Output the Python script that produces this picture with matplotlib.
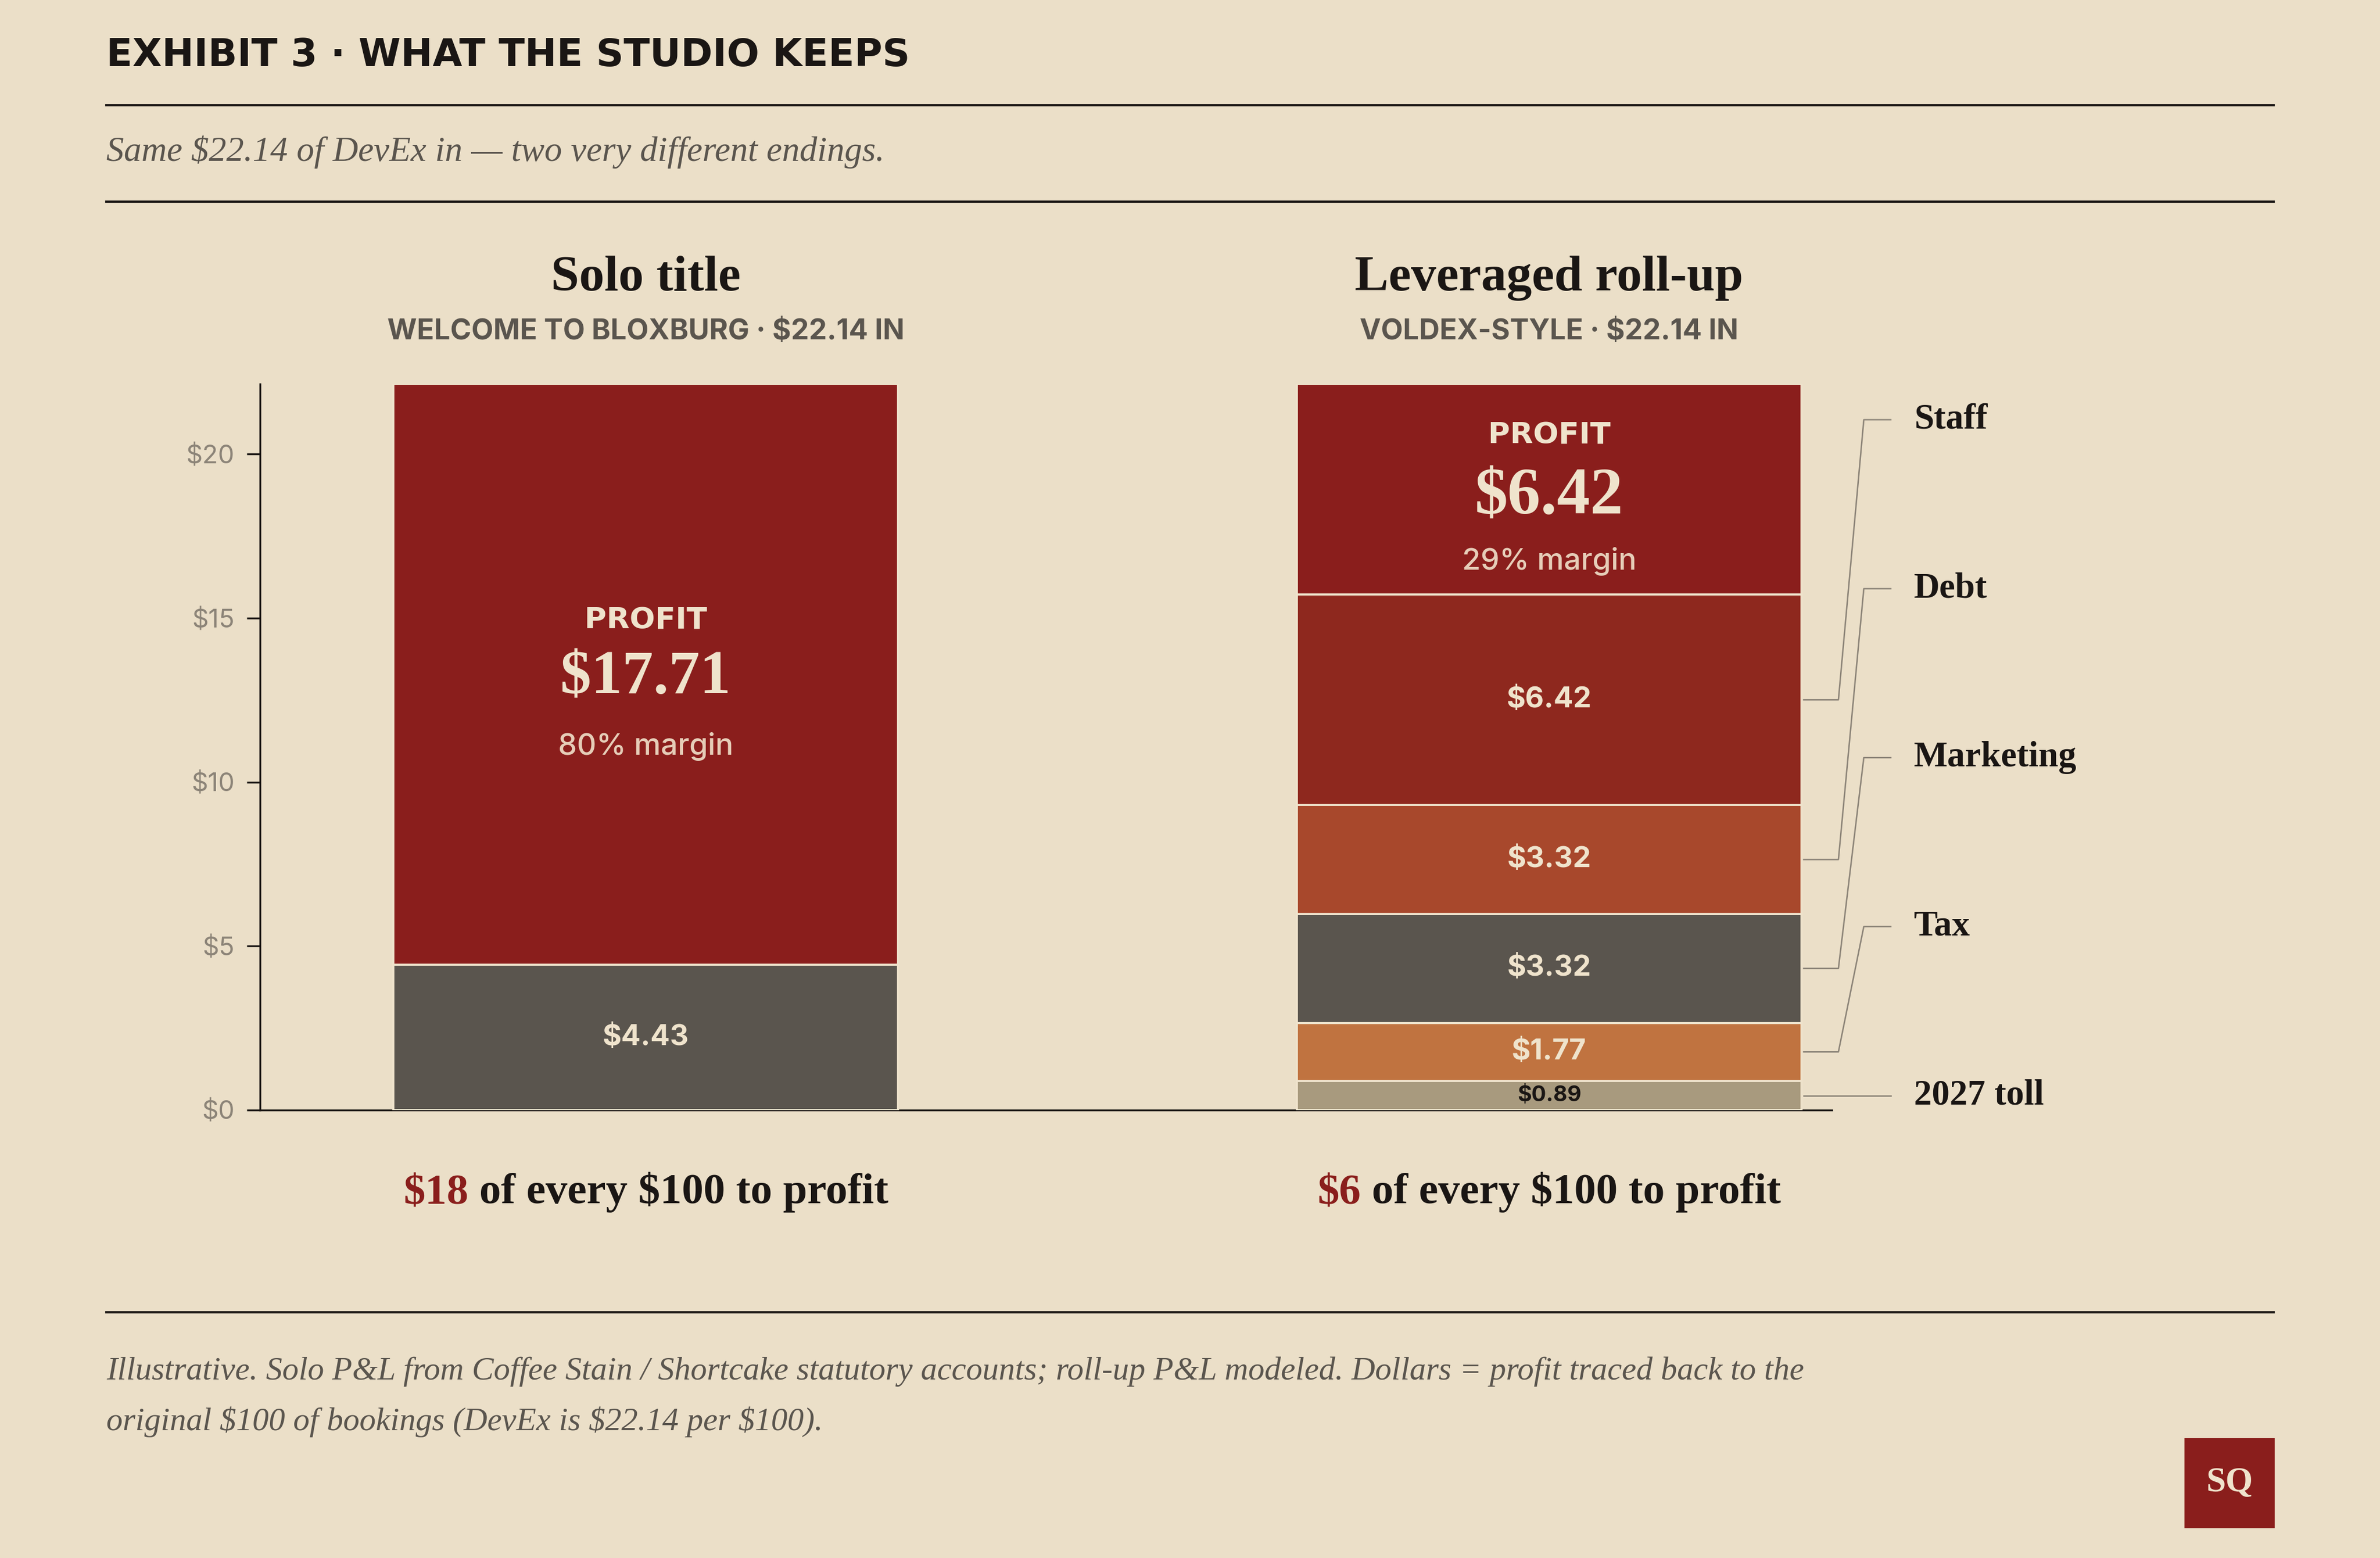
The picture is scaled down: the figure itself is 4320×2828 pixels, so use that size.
import matplotlib
matplotlib.use("Agg")
import matplotlib.pyplot as plt
import numpy as np

W, H = 4320, 2828
DPI = 270

BG = '#ebdfc8'
INK = '#1a1614'
MUTED = '#5a554e'
GRAYTICK = '#8c8478'
CREAM = '#efe3cc'
RED = '#8a1e1c'

SERIF = ['Liberation Serif', 'DejaVu Serif']
SANS = ['Inter', 'DejaVu Sans']
WIDE = ['DejaVu Sans']

# data
solo_labels = ['Costs', 'Profit']
solo_values = [4.43, 17.71]
solo_colors = ['#5a554e', RED]

roll_labels = ['2027 toll', 'Tax', 'Marketing', 'Debt', 'Staff', 'Profit']
roll_values = [0.89, 1.77, 3.32, 3.32, 6.42, 6.42]
roll_colors = ['#a89a7e', '#c07340', '#5a554e', '#a8482c', '#8e281e', RED]

devex_in = 22.14
solo_margin = '80% margin'
roll_margin = '29% margin'
per100 = ['$18', '$6']
yticks = [0, 5, 10, 15, 20]


def fx(px):
    return px / W


def fy(py):
    return 1 - py / H


fig = plt.figure(figsize=(W / DPI, H / DPI), dpi=DPI, facecolor=BG)

# header
fig.text(fx(193), fy(120), 'EXHIBIT 3 · WHAT THE STUDIO KEEPS', family=WIDE,
         weight='bold', size=18.5, color=INK, va='baseline', ha='left')
fig.add_artist(plt.Line2D([fx(193), fx(4127)], [fy(191), fy(191)], color=INK, lw=1.1))
fig.text(fx(193), fy(292), 'Same $22.14 of DevEx in — two very different endings.',
         family=SERIF, style='italic', size=17, color=MUTED, va='baseline')
fig.add_artist(plt.Line2D([fx(193), fx(4127)], [fy(366), fy(366)], color=INK, lw=1.1))

# axes
ax = fig.add_axes([fx(472), fy(2015), (3325 - 472) / W, (2015 - 697) / H])
ax.set_facecolor(BG)
ax.set_xlim(-0.4268, 1.3128)
ax.set_ylim(0, devex_in)
bw = 0.5585

for xpos, vals, cols in [(0, solo_values, solo_colors), (1, roll_values, roll_colors)]:
    bottoms = np.concatenate([[0], np.cumsum(vals)[:-1]])
    ax.bar([xpos] * len(vals), vals, bottom=bottoms, width=bw, color=cols,
           edgecolor=CREAM, linewidth=1.0, zorder=2)

for s in ['top', 'right']:
    ax.spines[s].set_visible(False)
for s in ['left', 'bottom']:
    ax.spines[s].set_color(INK)
    ax.spines[s].set_linewidth(0.9)
    ax.spines[s].set_zorder(1)
ax.set_xticks([])
ax.set_yticks(yticks)
ax.set_yticklabels(['$%d' % v for v in yticks], family=SANS, size=12.5, color=GRAYTICK)
ax.tick_params(axis='y', length=6.4, width=0.9, color=INK, pad=6)


def profit_block(xpos, bottom, val, margin, big_size, big_dy):
    mid = bottom + val / 2
    ax.annotate('PROFIT', (xpos, mid), xytext=(0, 26), textcoords='offset points',
                ha='center', va='center', family=WIDE, weight='bold', size=14.5, color=CREAM, zorder=5)
    ax.annotate('$%.2f' % val, (xpos, mid), xytext=(0, big_dy), textcoords='offset points',
                ha='center', va='center', family=SERIF, weight='bold', size=big_size, color=CREAM, zorder=5)
    ax.annotate(margin, (xpos, mid), xytext=(0, -35), textcoords='offset points',
                ha='center', va='center', family=SANS, weight='medium', size=14.5,
                color='#e6cdb8', zorder=5)


# solo bar labels
ax.text(0, solo_values[0] / 2, '$%.2f' % solo_values[0], ha='center', va='center',
        family=SANS, weight='bold', size=14, color=CREAM, zorder=5)
profit_block(0, solo_values[0], solo_values[1], solo_margin, 30, -2)

# roll-up bar labels
roll_bottoms = np.concatenate([[0], np.cumsum(roll_values)[:-1]])
roll_mids = roll_bottoms + np.array(roll_values) / 2
for i in range(len(roll_values) - 1):
    if roll_values[i] < 1:
        ax.text(1, roll_mids[i], '$%.2f' % roll_values[i], ha='center', va='center',
                family=SANS, weight='bold', size=10.5, color=INK, zorder=5)
    else:
        ax.text(1, roll_mids[i], '$%.2f' % roll_values[i], ha='center', va='center',
                family=SANS, weight='bold', size=14, color=CREAM, zorder=5)
profit_block(1, roll_bottoms[-1], roll_values[-1], roll_margin, 32, -4)

# leader lines to the right labels (top to bottom: Staff ... 2027 toll)
label_y = np.linspace(21.05, roll_mids[0], 5)
seg_idx = [4, 3, 2, 1, 0]
for ly, si in zip(label_y, seg_idx):
    sy = roll_mids[si]
    ax.plot([1.2817, 1.3201, 1.3482, 1.3780], [sy, sy, ly, ly], color=GRAYTICK,
            lw=0.7, clip_on=False, zorder=3)
    ax.text(1.4037, ly, roll_labels[si], ha='left', va='center', family=SERIF,
            weight='bold', size=17.3, color=INK, clip_on=False)

# column titles
centers_px = [1172, 2812]
titles = ['Solo title', 'Leveraged roll-up']
subs = ['WELCOME TO BLOXBURG · $22.14 IN', 'VOLDEX-STYLE · $22.14 IN']
for cx, t, s in zip(centers_px, titles, subs):
    fig.text(fx(cx), fy(527), t, ha='center', va='baseline', family=SERIF,
             weight='bold', size=24.5, color=INK)
    fig.text(fx(cx), fy(616), s, ha='center', va='baseline', family=SANS,
             weight='bold', size=13.8, color=MUTED)

# bottom captions: red lead number, then the rest chained to it
caps = []
for cx, num in zip(centers_px, per100):
    t1 = fig.text(fx(cx), fy(2184), num, ha='left', va='baseline', family=SERIF,
                  weight='bold', size=21, color=RED)
    t2 = ax.annotate('of every $100 to profit', xy=(1, 0), xycoords=t1, xytext=(5.2, 0),
                     textcoords='offset points', ha='left', va='bottom', family=SERIF,
                     weight='bold', size=21, color=INK, annotation_clip=False)
    caps.append((cx, t1, t2))

fig.canvas.draw()
for cx, t1, t2 in caps:
    b1 = t1.get_window_extent()
    b2 = t2.get_window_extent()
    total = b2.x1 - b1.x0
    t1.set_x(fx(cx - total / 2))

# footer
fig.add_artist(plt.Line2D([fx(193), fx(4127)], [fy(2382), fy(2382)], color=INK, lw=1.1))
fig.text(fx(193), fy(2504), 'Illustrative. Solo P&L from Coffee Stain / Shortcake statutory accounts; '
         'roll-up P&L modeled. Dollars = profit traced back to the', family=SERIF, style='italic',
         size=15.8, color=MUTED, va='baseline')
fig.text(fx(193), fy(2596), 'original $100 of bookings (DevEx is $22.14 per $100).', family=SERIF,
         style='italic', size=15.8, color=MUTED, va='baseline')

fig.add_artist(plt.Rectangle((fx(3967), fy(2772)), 160 / W, 160 / H, color=RED,
                             transform=fig.transFigure))
fig.text(fx(4047), fy(2692), 'SQ', ha='center', va='center', family=SERIF, weight='bold',
         size=17, color=CREAM)

fig.savefig('out.png', dpi=DPI, facecolor=BG)
